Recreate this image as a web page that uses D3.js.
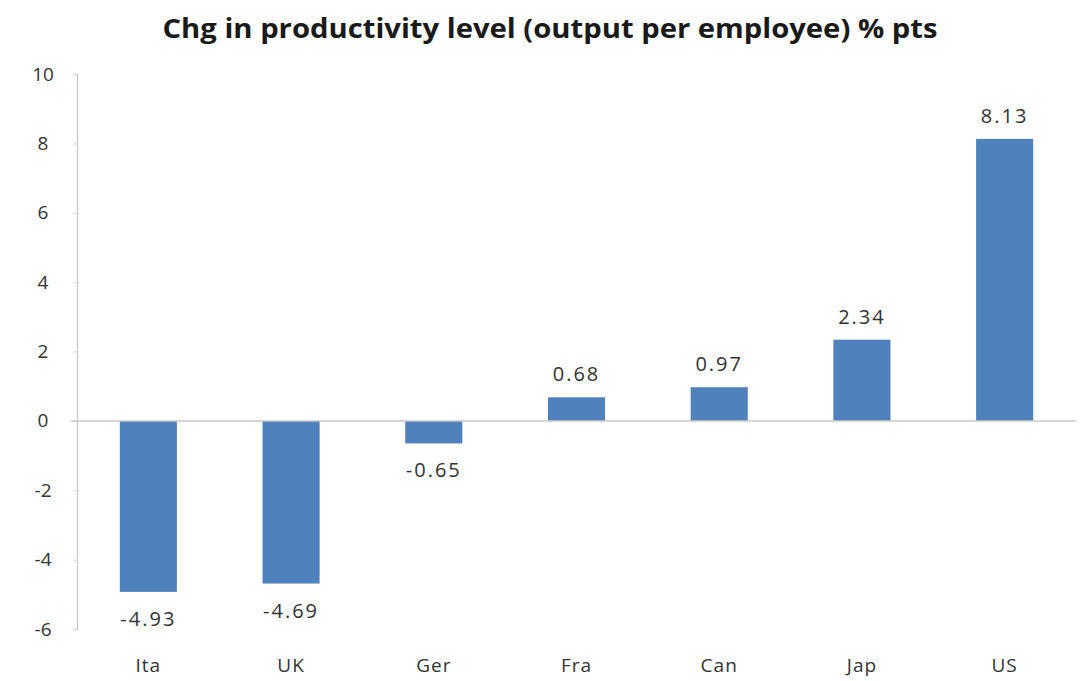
<!DOCTYPE html>
<html>
<head>
<meta charset="utf-8">
<script src="https://cdn.jsdelivr.net/npm/d3@7"></script>
<style>
  html, body { margin: 0; padding: 0; background: #ffffff; }
  svg { display: block; }
  text { font-family: "Open Sans", "Noto Sans", sans-serif; }
</style>
</head>
<body>
<svg id="chart" width="1080" height="681"></svg>
<script>
// Productivity change by country, percentage points
const countries = ["Ita", "UK", "Ger", "Fra", "Can", "Jap", "US"];
const changes = [-4.93, -4.69, -0.65, 0.68, 0.97, 2.34, 8.13];
const yTicks = [-6, -4, -2, 0, 2, 4, 6, 8, 10];
const titleText = "Chg in productivity level (output per employee) % pts";

const W = 1080, H = 681;
const margin = { top: 74, right: 4, bottom: 52, left: 77 };

const svg = d3.select("#chart");

const x = d3.scaleBand()
  .domain(countries)
  .range([margin.left, W - margin.right])
  .paddingInner(0.6)
  .paddingOuter(0.3);

const y = d3.scaleLinear()
  .domain([-6, 10])
  .range([H - margin.bottom, margin.top]);

// title
svg.append("text")
  .attr("x", 550)
  .attr("y", 38)
  .attr("text-anchor", "middle")
  .attr("font-size", 26)
  .attr("font-weight", 700)
  .attr("fill", "#1a1a1a")
  .attr("textLength", 775)
  .attr("lengthAdjust", "spacingAndGlyphs")
  .text(titleText);

// value axis
const yAxis = d3.axisLeft(y)
  .tickValues(yTicks)
  .tickFormat(d => String(d))
  .tickSize(4)
  .tickPadding(24);
const gy = svg.append("g")
  .attr("transform", `translate(${margin.left},0)`)
  .call(yAxis);
gy.select(".domain").attr("stroke", "#cfcfcf").attr("stroke-width", 1.5);
gy.selectAll(".tick line").attr("stroke", "#d8d8d8");
gy.selectAll(".tick text")
  .attr("font-size", 19)
  .attr("fill", "#333")
  .attr("text-anchor", "middle")
  .attr("dx", "-6");

// bars
svg.append("g")
  .selectAll("rect")
  .data(countries)
  .join("rect")
  .attr("x", d => x(d))
  .attr("width", x.bandwidth())
  .attr("y", (d, i) => y(Math.max(0, changes[i])))
  .attr("height", (d, i) => Math.abs(y(changes[i]) - y(0)))
  .attr("fill", "#4f81bd");

// zero line
svg.append("line")
  .attr("x1", margin.left - 6)
  .attr("x2", W - 4)
  .attr("y1", y(0))
  .attr("y2", y(0))
  .attr("stroke", "#c8c8c8")
  .attr("stroke-width", 1.5);

// value labels
svg.append("g")
  .selectAll("text")
  .data(countries)
  .join("text")
  .attr("x", d => x(d) + x.bandwidth() / 2)
  .attr("y", (d, i) => changes[i] >= 0 ? y(changes[i]) - 16 : y(changes[i]) + 34)
  .attr("text-anchor", "middle")
  .attr("font-size", 20)
  .attr("letter-spacing", 2)
  .attr("fill", "#333")
  .text((d, i) => changes[i].toFixed(2));

// category labels
const xAxis = d3.axisBottom(x).tickSize(0);
const gx = svg.append("g")
  .attr("transform", `translate(0,${H - 26})`)
  .call(xAxis);
gx.select(".domain").remove();
gx.selectAll(".tick text")
  .attr("font-size", 19)
  .attr("letter-spacing", 1)
  .attr("fill", "#333");
</script>
</body>
</html>
